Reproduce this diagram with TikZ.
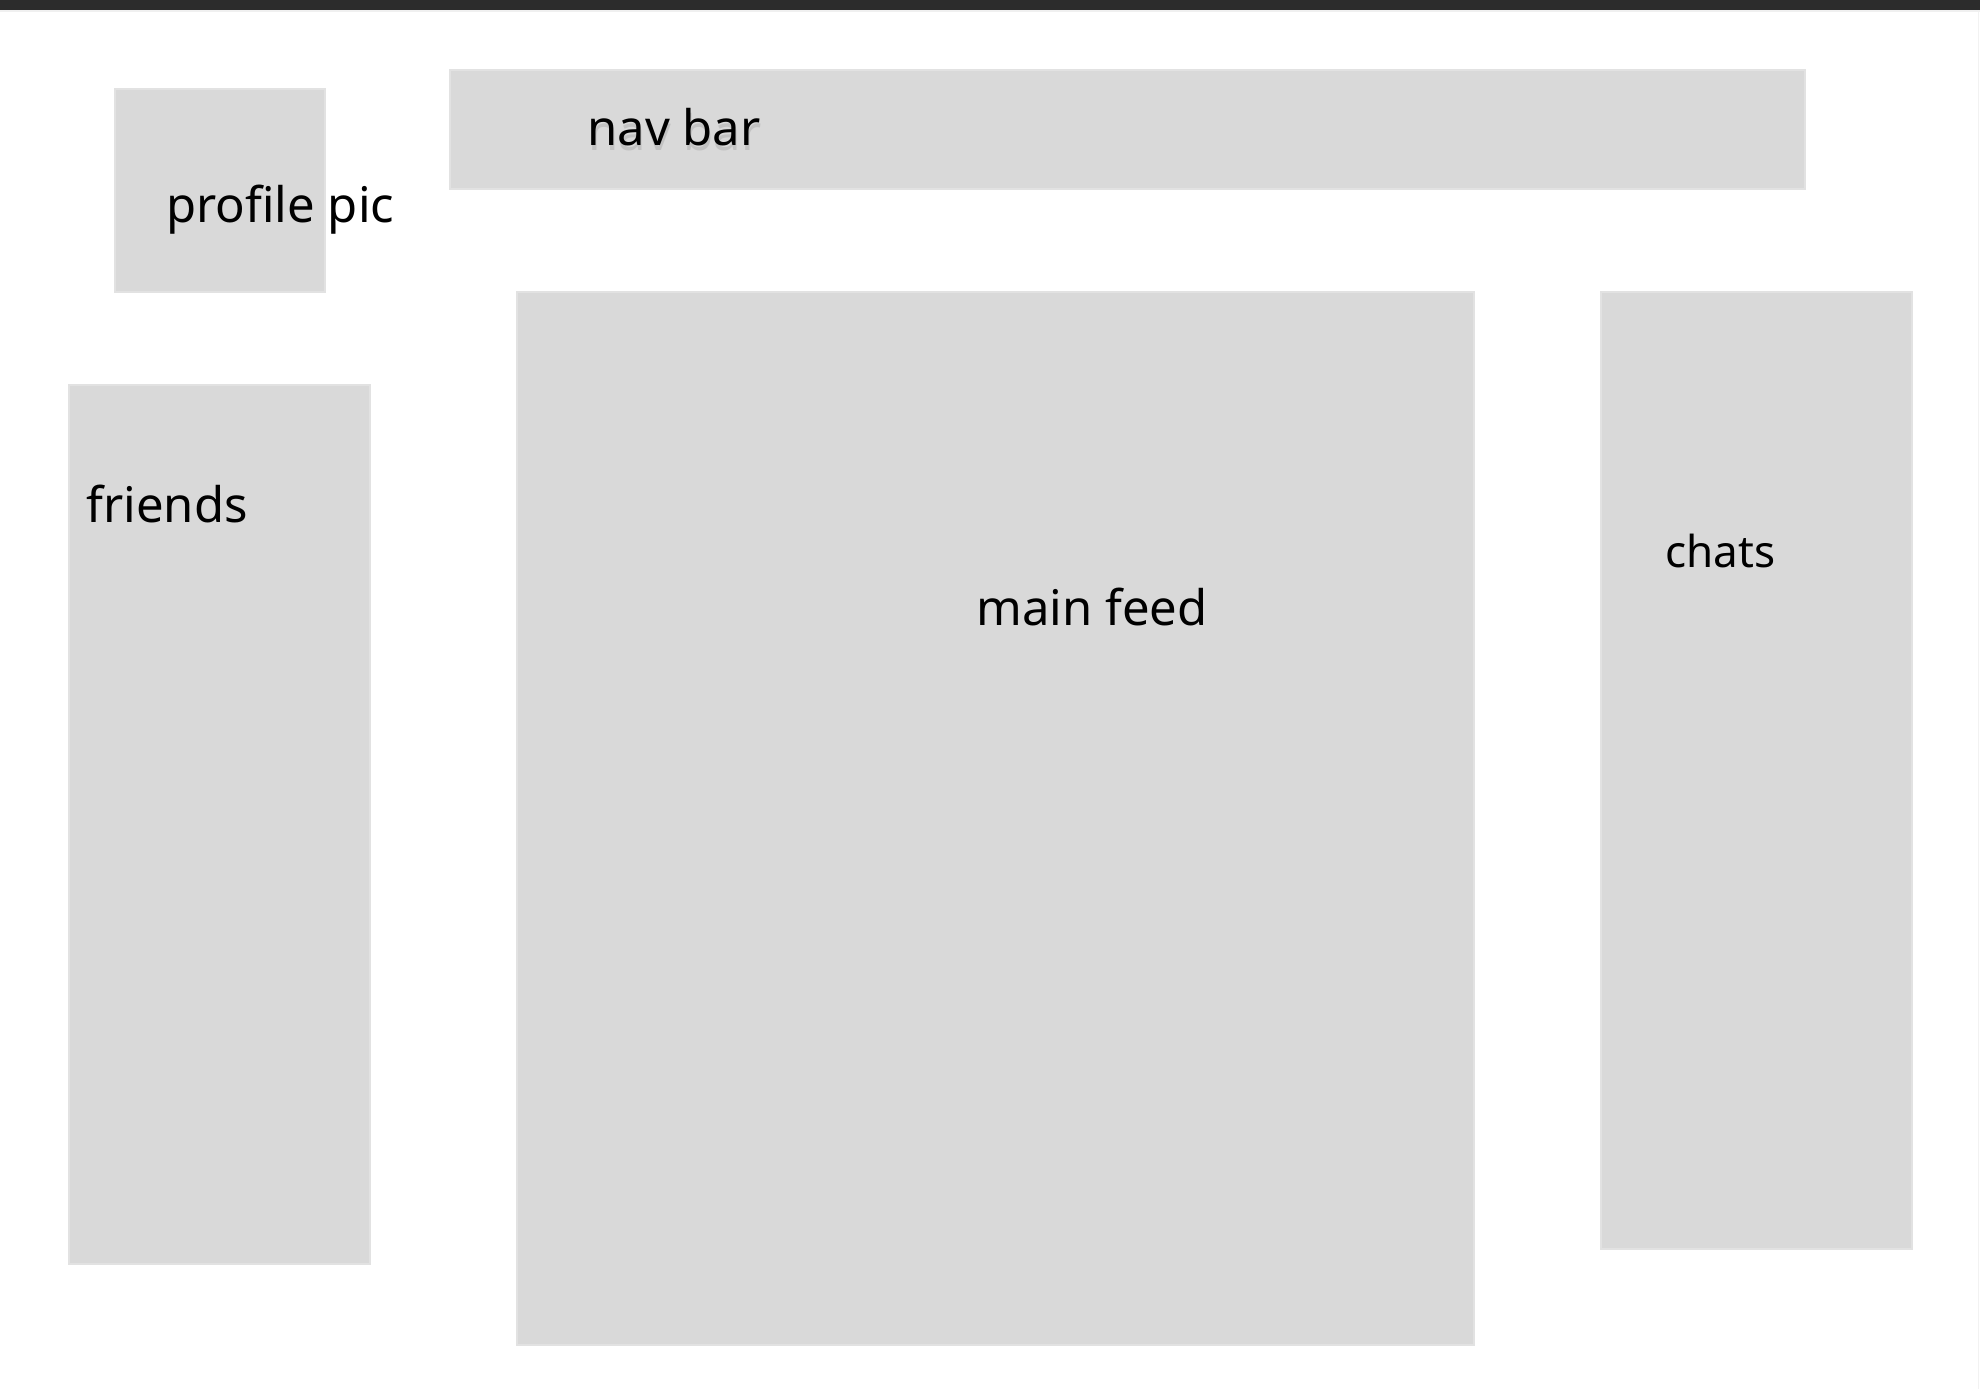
\documentclass[tikz,border=0pt]{standalone}
\usepackage{fontspec}
\setmainfont{Noto Sans}
\definecolor{boxgray}{HTML}{D9D9D9}
\definecolor{boxedge}{HTML}{E2E2E2}
\definecolor{topbar}{HTML}{2C2C2C}
\begin{document}
\begin{tikzpicture}[x=0.5pt,y=-0.5pt,
  panel/.style={fill=boxgray, draw=boxedge, line width=0.6pt, anchor=north west, inner sep=0pt, outer sep=0pt},
  lbl/.style={anchor=base west, inner sep=0pt, font=\fontsize{24.5pt}{28pt}\selectfont},
  lblsmall/.style={anchor=base west, inner sep=0pt, font=\fontsize{22pt}{26pt}\selectfont}]
\useasboundingbox (0,0) rectangle (1980,1389);
\fill[white] (0,0) rectangle (1980,1389);
\fill[topbar] (0,0) rectangle (1980,10);
\fill[black!6] (0,10) rectangle (1980,12);
\draw[black!5, line width=0.5pt] (1978,12) -- (1978,1389);
% panels
\node[panel, minimum width=0.5pt*210, minimum height=0.5pt*203] (profile) at (115,89) {};
\node[panel, minimum width=0.5pt*1355, minimum height=0.5pt*119] (nav) at (450,70) {};
\node[panel, minimum width=0.5pt*957, minimum height=0.5pt*1053] (feed) at (517,292) {};
\node[panel, minimum width=0.5pt*301, minimum height=0.5pt*879] (friends) at (69,385) {};
\node[panel, minimum width=0.5pt*311, minimum height=0.5pt*957] (chats) at (1601,292) {};
% labels
\node[lbl, text=black!40, opacity=0.35] (navshadow) at (588,150) {nav bar};
\node[lbl] (navlbl) at (587,145) {nav bar};
\node[lbl] (profilelbl) at (166,222) {profile pic};
\node[lbl] (friendslbl) at (86,522) {friends};
\node[lbl] (feedlbl) at (976,625) {main feed};
\node[lblsmall] (chatslbl) at (1665,567) {chats};
\end{tikzpicture}
\end{document}
